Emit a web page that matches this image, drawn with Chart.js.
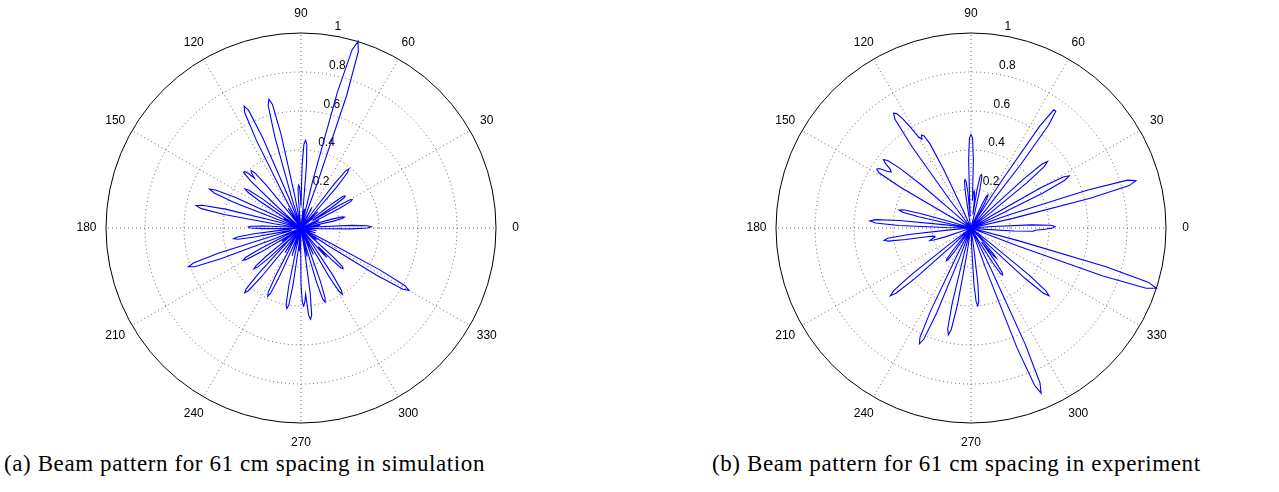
<!DOCTYPE html>
<html>
<head>
<meta charset="utf-8">
<script src="https://cdn.jsdelivr.net/npm/chart.js@4.4.1/dist/chart.umd.min.js"></script>
<style>
    html, body { margin: 0; padding: 0; background: #fff; }
    #page { position: relative; width: 1279px; height: 492px; overflow: hidden; }
    canvas { position: absolute; top: 0; }
    .caption {
        position: absolute;
        top: 451px;
        font-family: "Liberation Serif", "Times New Roman", serif;
        font-size: 23px;
        letter-spacing: 0.6px;
        color: #000;
        white-space: nowrap;
    }
</style>
</head>
<body>
<div id="page">
    <canvas id="chart_sim" width="640" height="450" style="left:0"></canvas>
    <canvas id="chart_exp" width="639" height="450" style="left:640px"></canvas>
    <div class="caption" style="left:4px">(a) Beam pattern for 61 cm spacing in simulation</div>
    <div class="caption" style="left:712px">(b) Beam pattern for 61 cm spacing in experiment</div>
</div>
<script>
// Angle labels around the rim (degrees, counter-clockwise from east)
const angleTicks = [0, 30, 60, 90, 120, 150, 180, 210, 240, 270, 300, 330];
// Radial rings
const radialTicks = [0.2, 0.4, 0.6, 0.8, 1];
const radialTickLabels = ['0.2', '0.4', '0.6', '0.8', '1'];

// Categories: one per degree
const angles = Array.from({ length: 360 }, (_, i) => i);

// Simulated beam pattern, value per degree 0..359
const simValues = [
    0.34, 0.36, 0.34, 0.26, 0.09, 0, 0, 0.05, 0.1, 0.05,        // 0
    0, 0.06, 0.17, 0.22, 0.23, 0.22, 0.17, 0.06, 0, 0,          // 10
    0, 0.05, 0.1, 0.05, 0, 0, 0.08, 0.22, 0.29, 0.3,            // 20
    0.29, 0.22, 0.08, 0.07, 0.2, 0.27, 0.28, 0.27, 0.2, 0.07,   // 30
    0, 0, 0, 0.06, 0.12, 0.06, 0, 0, 0.1, 0.28,                 // 40
    0.37, 0.39, 0.37, 0.28, 0.1, 0, 0, 0, 0, 0,                 // 50
    0, 0.06, 0.12, 0.06, 0, 0, 0, 0, 0, 0,                      // 60
    0.25, 0.72, 0.95, 1, 0.95, 0.72, 0.25, 0, 0, 0.05,          // 70
    0.1, 0.05, 0, 0, 0.11, 0.32, 0.43, 0.45, 0.43, 0.32,        // 80
    0.11, 0.16, 0.21, 0.22, 0.21, 0.16, 0.06, 0, 0, 0,          // 90
    0, 0.17, 0.49, 0.65, 0.68, 0.65, 0.49, 0.17, 0, 0,          // 100
    0, 0, 0.17, 0.5, 0.66, 0.69, 0.66, 0.5, 0.17, 0,            // 110
    0, 0, 0.06, 0.12, 0.06, 0, 0, 0, 0.1, 0.28,                 // 120
    0.37, 0.39, 0.38, 0.35, 0.39, 0.41, 0.41, 0.35, 0.18, 0.04, // 130
    0, 0, 0.09, 0.25, 0.33, 0.35, 0.33, 0.25, 0.09, 0,          // 140
    0.05, 0.1, 0.05, 0, 0.13, 0.37, 0.48, 0.51, 0.48, 0.37,     // 150
    0.13, 0, 0, 0, 0, 0.14, 0.4, 0.52, 0.55, 0.52,              // 160
    0.4, 0.14, 0, 0, 0, 0, 0.07, 0.19, 0.26, 0.27,              // 170
    0.26, 0.19, 0.07, 0, 0, 0, 0.09, 0.25, 0.33, 0.35,          // 180
    0.33, 0.25, 0.09, 0.05, 0.1, 0.05, 0.15, 0.44, 0.58, 0.61,  // 190
    0.58, 0.44, 0.15, 0, 0, 0, 0.09, 0.24, 0.32, 0.34,          // 200
    0.32, 0.24, 0.09, 0, 0.06, 0.12, 0.06, 0, 0.08, 0.23,       // 210
    0.3, 0.32, 0.3, 0.23, 0.08, 0, 0.11, 0.32, 0.42, 0.44,      // 220
    0.42, 0.32, 0.11, 0, 0, 0, 0.08, 0.15, 0.08, 0,             // 230
    0, 0.1, 0.28, 0.37, 0.39, 0.37, 0.28, 0.1, 0, 0,            // 240
    0, 0.08, 0.15, 0.08, 0, 0, 0, 0.11, 0.3, 0.4,               // 250
    0.42, 0.4, 0.3, 0.11, 0, 0.06, 0.12, 0.06, 0, 0.1,          // 260
    0.29, 0.38, 0.4, 0.38, 0.34, 0.45, 0.47, 0.45, 0.34, 0.12,  // 270
    0, 0.08, 0.15, 0.08, 0, 0.1, 0.29, 0.38, 0.4, 0.38,         // 280
    0.29, 0.1, 0, 0, 0.08, 0.15, 0.08, 0, 0, 0.1,               // 290
    0.29, 0.38, 0.4, 0.38, 0.29, 0.1, 0, 0, 0, 0.05,            // 300
    0.14, 0.2, 0.17, 0.13, 0.22, 0.29, 0.3, 0.29, 0.22, 0.08,   // 310
    0, 0, 0.05, 0.1, 0.05, 0, 0, 0.16, 0.46, 0.61,              // 320
    0.64, 0.61, 0.46, 0.16, 0, 0, 0, 0, 0, 0,                   // 330
    0.04, 0.08, 0.04, 0, 0, 0, 0, 0, 0, 0,                      // 340
    0.04, 0.08, 0.04, 0, 0, 0, 0, 0, 0.09, 0.26                 // 350
];

// Measured beam pattern, value per degree 0..359
const expValues = [
    0.42, 0.43, 0.41, 0.31, 0.11, 0, 0, 0, 0, 0,                // 0
    0, 0, 0, 0.22, 0.63, 0.84, 0.88, 0.84, 0.63, 0.22,          // 10
    0, 0, 0, 0, 0, 0.14, 0.41, 0.54, 0.57, 0.54,                // 20
    0.41, 0.14, 0, 0, 0, 0, 0, 0, 0.13, 0.37,                   // 30
    0.49, 0.52, 0.49, 0.37, 0.13, 0, 0, 0, 0, 0,                // 40
    0, 0.13, 0.42, 0.66, 0.74, 0.74, 0.63, 0.3, 0.06, 0,        // 50
    0.05, 0.14, 0.18, 0.19, 0.18, 0.14, 0.05, 0, 0, 0,          // 60
    0, 0, 0, 0, 0, 0, 0.07, 0.2, 0.27, 0.28,                    // 70
    0.27, 0.2, 0.07, 0.14, 0.18, 0.19, 0.18, 0.14, 0.35, 0.46,  // 80
    0.48, 0.46, 0.35, 0.12, 0.06, 0.18, 0.24, 0.25, 0.24, 0.18, // 90
    0.06, 0, 0, 0, 0, 0, 0, 0, 0, 0,                            // 100
    0, 0, 0, 0, 0.1, 0.33, 0.48, 0.53, 0.54, 0.52,              // 110
    0.54, 0.6, 0.66, 0.7, 0.71, 0.68, 0.51, 0.18, 0, 0,         // 120
    0, 0, 0, 0, 0, 0, 0, 0, 0.12, 0.33,                         // 130
    0.48, 0.55, 0.57, 0.55, 0.51, 0.5, 0.52, 0.56, 0.57, 0.55,  // 140
    0.42, 0.14, 0, 0, 0, 0, 0, 0, 0, 0,                         // 150
    0, 0, 0, 0.1, 0.27, 0.36, 0.38, 0.36, 0.27, 0.1,            // 160
    0, 0, 0, 0.13, 0.37, 0.49, 0.52, 0.49, 0.37, 0.13,          // 170
    0, 0, 0, 0, 0, 0.11, 0.32, 0.43, 0.45, 0.43,                // 180
    0.34, 0.24, 0.2, 0.19, 0.19, 0.2, 0.21, 0.22, 0.2, 0.14,    // 190
    0.05, 0, 0, 0, 0, 0, 0, 0, 0, 0,                            // 200
    0, 0, 0, 0, 0, 0, 0, 0.14, 0.39, 0.51,                      // 210
    0.54, 0.51, 0.39, 0.14, 0, 0, 0, 0, 0, 0,                   // 220
    0.05, 0.15, 0.2, 0.21, 0.2, 0.15, 0.05, 0, 0, 0,            // 230
    0, 0, 0, 0.16, 0.47, 0.62, 0.65, 0.62, 0.47, 0.16,          // 240
    0, 0, 0, 0, 0, 0.14, 0.4, 0.53, 0.56, 0.53,                 // 250
    0.4, 0.14, 0, 0, 0, 0, 0, 0, 0, 0,                          // 260
    0, 0, 0.1, 0.29, 0.38, 0.4, 0.38, 0.29, 0.1, 0,             // 270
    0, 0, 0, 0, 0, 0, 0, 0, 0, 0,                               // 280
    0.23, 0.66, 0.87, 0.92, 0.87, 0.66, 0.23, 0, 0, 0,          // 290
    0, 0.07, 0.21, 0.28, 0.29, 0.28, 0.21, 0.09, 0.13, 0.18,    // 300
    0.2, 0.17, 0.07, 0, 0, 0, 0.13, 0.38, 0.5, 0.53,            // 310
    0.5, 0.38, 0.13, 0, 0, 0, 0, 0, 0, 0,                       // 320
    0, 0, 0, 0, 0, 0, 0, 0, 0, 0.25,                            // 330
    0.72, 0.95, 1, 0.95, 0.72, 0.25, 0, 0, 0, 0,                // 340
    0, 0, 0, 0, 0, 0.08, 0.22, 0.32, 0.33, 0.38                 // 350
];

// Radar runs clockwise from startAngle; with startAngle 90 index i sits at (360 - i) degrees
function indexOfAngle(a) {
    return (360 - a) % 360;
}

const GRID_COLOR = 'rgba(0, 0, 0, 0.6)';

// Rim labels and ring labels in the MATLAB polar() style
const polarLabelsPlugin = {
    id: 'polarLabels',
    beforeDatasetsDraw(chart) {
        const s = chart.scales.r;
        const ctx = chart.ctx;
        ctx.save();
        ctx.fillStyle = '#000';
        ctx.font = '12px "Liberation Sans", Arial, sans-serif';
        ctx.textAlign = 'center';
        ctx.textBaseline = 'middle';
        angleTicks.forEach(a => {
            const p = s.getPointPosition(indexOfAngle(a), s.drawingArea * 1.1);
            ctx.fillText(String(a), p.x, p.y);
        });
        ctx.textAlign = 'left';
        ctx.textBaseline = 'bottom';
        radialTicks.forEach((v, k) => {
            const p = s.getPointPosition(indexOfAngle(82), s.getDistanceFromCenterForValue(v + 0.01));
            ctx.fillText(radialTickLabels[k], p.x + 6, p.y);
        });
        ctx.restore();
    }
};

function createPolarChart(canvasId, values, padding) {
    const ctx = document.getElementById(canvasId);
    return new Chart(ctx, {
        type: 'radar',
        data: {
            labels: angles,
            datasets: [{
                data: angles.map((a, i) => values[indexOfAngle(i)]),
                borderColor: '#0000ff',
                borderWidth: 1.1,
                pointRadius: 0,
                pointHoverRadius: 0,
                fill: false,
                tension: 0
            }]
        },
        options: {
            responsive: false,
            animation: false,
            events: [],
            layout: { padding: padding },
            plugins: {
                legend: { display: false },
                tooltip: { enabled: false }
            },
            scales: {
                r: {
                    min: 0,
                    max: 1,
                    startAngle: 90,
                    ticks: { display: false, stepSize: 0.2 },
                    pointLabels: { display: false },
                    grid: {
                        circular: true,
                        lineWidth: 1,
                        color: c => (c.index === radialTicks.length ? '#000' : GRID_COLOR)
                    },
                    border: {
                        dash: c => (c.index === radialTicks.length ? [] : [1, 3])
                    },
                    angleLines: {
                        display: true,
                        color: c => (c.index % 30 === 0 ? GRID_COLOR : 'rgba(0,0,0,0)'),
                        lineWidth: c => (c.index % 30 === 0 ? 1 : 0),
                        borderDash: [1, 3]
                    }
                }
            }
        },
        plugins: [polarLabelsPlugin]
    });
}

createPolarChart('chart_sim', simValues, { left: 106, right: 144, top: 33, bottom: 27 });
createPolarChart('chart_exp', expValues, { left: 136, right: 113, top: 33, bottom: 27 });
</script>
</body>
</html>
